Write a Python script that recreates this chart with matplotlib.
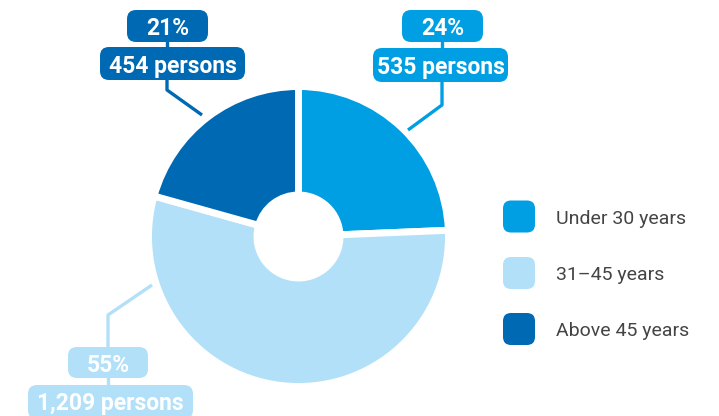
import matplotlib
matplotlib.use("Agg")
import matplotlib.pyplot as plt
from matplotlib.patches import FancyBboxPatch

categories = ["Under 30 years", "31\u201345 years", "Above 45 years"]
persons = [535, 1209, 454]
colors = ["#009FE3", "#B2E0F8", "#0069B4"]

W, H = 719, 416
fig = plt.figure(figsize=(W / 100, H / 100), dpi=100)
ax = fig.add_axes([0, 0, 1, 1])

def Y(py):
    return H - py

cx, cy, R, Rin = 298.5, Y(236.5), 150, 41.5
ax.pie(persons, colors=colors, startangle=90, counterclock=False,
       center=(cx, cy), radius=R, frame=True,
       wedgeprops=dict(width=R - Rin, edgecolor="white", linewidth=5))
ax.set_xlim(0, W)
ax.set_ylim(0, H)
ax.set_aspect("auto")
ax.axis("off")

total = sum(persons)
pcts = [round(100 * p / total) for p in persons]

# label layout (pixel boxes: x0, x1, y0, y1)
layout = [
    dict(pbox=(402, 483, 10, 42), nbox=(373, 508, 48, 82), conn_x=442,
         leader=[(442, 82), (442, 105), (408, 130)]),
    dict(pbox=(68, 148, 347, 378), nbox=(28, 193, 385, 419), conn_x=108,
         leader=[(108, 347), (108, 315), (152, 285)]),
    dict(pbox=(127, 208, 10, 42), nbox=(100, 245, 47, 80), conn_x=167,
         leader=[(167, 80), (167, 90), (202, 115)]),
]

def rbox(b, color):
    x0, x1, y0, y1 = b
    p = FancyBboxPatch((x0, Y(y1)), x1 - x0, y1 - y0,
                       boxstyle="round,pad=0,rounding_size=9",
                       facecolor=color, edgecolor="none", zorder=3)
    ax.add_patch(p)

for i, L in enumerate(layout):
    c = colors[i]
    xs = [p[0] for p in L["leader"]]
    ys = [Y(p[1]) for p in L["leader"]]
    ax.plot(xs, ys, color=c, lw=2.4, solid_capstyle="butt", zorder=2)
    ax.plot([L["conn_x"]] * 2, [Y(L["pbox"][3]), Y(L["nbox"][2])], color=c, lw=2.4, zorder=2)
    rbox(L["pbox"], c)
    rbox(L["nbox"], c)
    pb, nb = L["pbox"], L["nbox"]
    ax.text((pb[0] + pb[1]) / 2, Y((pb[2] + pb[3]) / 2), f"{pcts[i]}%",
            ha="center", va="center_baseline", color="white", fontsize=16.5,
            fontweight="bold", family="Roboto", zorder=4)
    ny = (nb[2] + min(nb[3], 417)) / 2
    ax.text((nb[0] + nb[1]) / 2, Y(ny), f"{persons[i]:,} persons",
            ha="center", va="center_baseline", color="white", fontsize=16.5,
            fontweight="bold", family="Roboto", zorder=4)

# legend
leg_y = [216.5, 273, 329]
for i, cat in enumerate(categories):
    yc = leg_y[i]
    p = FancyBboxPatch((503, Y(yc + 16)), 32, 32,
                       boxstyle="round,pad=0,rounding_size=8",
                       facecolor=colors[i], edgecolor="none")
    ax.add_patch(p)
    ax.text(556, Y(yc), cat, ha="left", va="center_baseline", color="#444444",
            fontsize=14, family="Roboto")

fig.savefig("out.png", dpi=100)
